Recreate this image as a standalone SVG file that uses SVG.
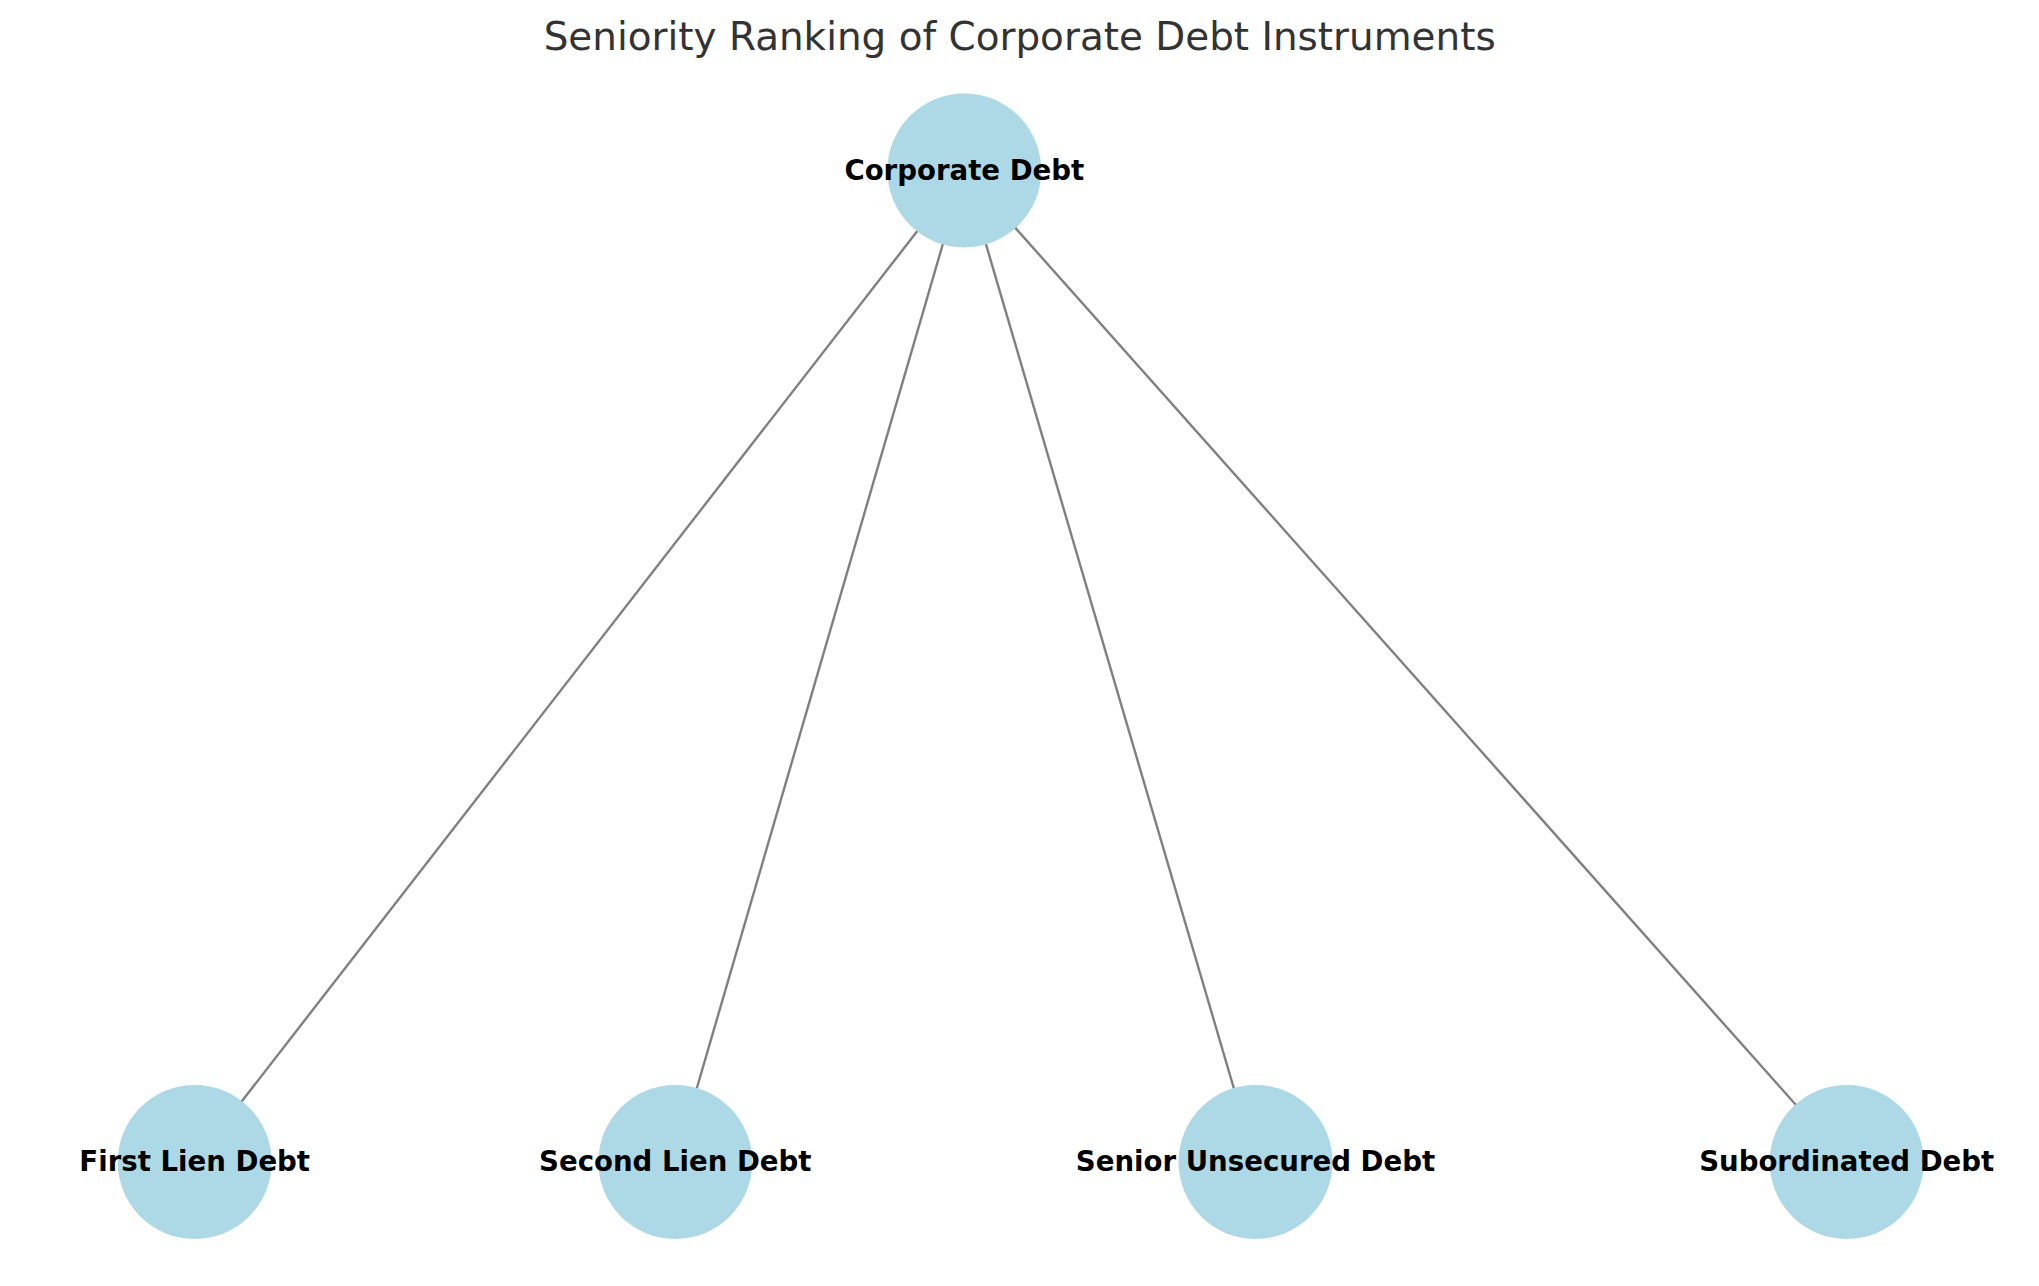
<svg xmlns="http://www.w3.org/2000/svg" width="2039" height="1286" viewBox="0 0 2039 1286">
<style>
.edge{stroke:#808080;stroke-width:2.4;fill:none}
.node circle{fill:#ADD8E6}
.node text{font-family:"DejaVu Sans",sans-serif;font-weight:bold;font-size:27.6px;fill:#000;text-anchor:middle}
.title{font-family:"DejaVu Sans",sans-serif;font-size:38.9px;fill:#333333;text-anchor:middle}
</style>
<rect width="2039" height="1286" fill="#ffffff"/>
<text class="title" x="1019.7" y="50">Seniority Ranking of Corporate Debt Instruments</text>
<g id="connectors">
<line class="edge" x1="964.3" y1="170.5" x2="194.7" y2="1162"/>
<line class="edge" x1="964.3" y1="170.5" x2="675.3" y2="1162"/>
<line class="edge" x1="964.3" y1="170.5" x2="1255.5" y2="1162"/>
<line class="edge" x1="964.3" y1="170.5" x2="1846.7" y2="1162"/>
</g>
<g id="node-corporate-debt" class="node">
<circle cx="964.3" cy="170.5" r="77"/>
<text x="964.3" y="179.5">Corporate Debt</text>
</g>
<g id="node-first-lien-debt" class="node">
<circle cx="194.7" cy="1162" r="77"/>
<text x="194.7" y="1171">First Lien Debt</text>
</g>
<g id="node-second-lien-debt" class="node">
<circle cx="675.3" cy="1162" r="77"/>
<text x="675.3" y="1171">Second Lien Debt</text>
</g>
<g id="node-senior-unsecured-debt" class="node">
<circle cx="1255.5" cy="1162" r="77"/>
<text x="1255.5" y="1171">Senior Unsecured Debt</text>
</g>
<g id="node-subordinated-debt" class="node">
<circle cx="1846.7" cy="1162" r="77"/>
<text x="1846.7" y="1171">Subordinated Debt</text>
</g>
</svg>
